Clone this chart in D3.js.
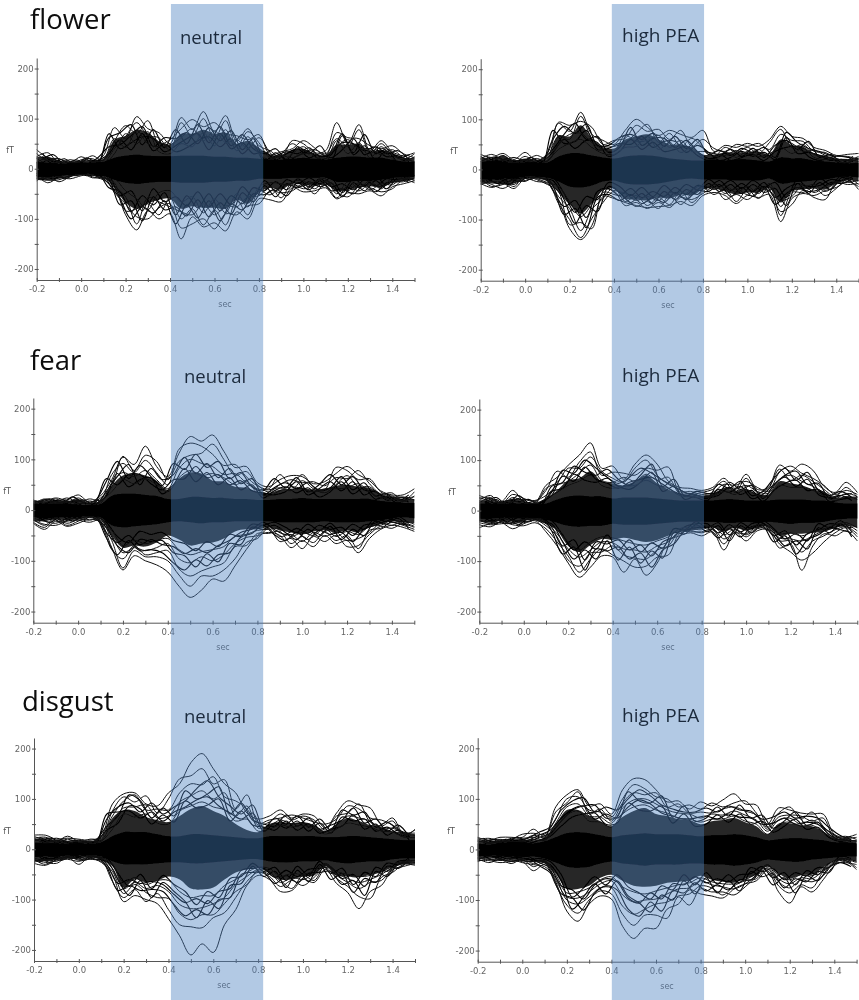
<!DOCTYPE html>
<html><head><meta charset="utf-8">
<script src="https://cdn.jsdelivr.net/npm/d3@7"></script>
<style>html,body{margin:0;background:#fff}svg{display:block}</style></head>
<body><svg id="c" width="859" height="1000"></svg>
<script>
const times=[-0.2,-0.15,-0.1,-0.05,0,0.05,0.1,0.15,0.2,0.25,0.3,0.35,0.4,0.45,0.5,0.55,0.6,0.65,0.7,0.75,0.8,0.85,0.9,0.95,1,1.05,1.1,1.15,1.2,1.25,1.3,1.35,1.4,1.45,1.5];
const timesB=[-0.175,-0.125,-0.075,-0.025,0.025,0.075,0.125,0.175,0.225,0.275,0.325,0.375,0.425,0.475,0.525,0.575,0.625,0.675,0.725,0.775,0.825,0.875,0.925,0.975,1.025,1.075,1.125,1.175,1.225,1.275,1.325,1.375,1.425,1.475];
const xTicks=[-0.2,-0.1,0,0.1,0.2,0.3,0.4,0.5,0.6,0.7,0.8,0.9,1,1.1,1.2,1.3,1.4,1.5];
const xLabels=["-0.2","0.0","0.2","0.4","0.6","0.8","1.0","1.2","1.4"];
const yTicks=[-200,-150,-100,-50,0,50,100,150,200];
const yLabels=["-200","-100","0","100","200"];
const panelTitles=["neutral","high PEA","neutral","high PEA","neutral","high PEA"];
const rowTitles=["flower","fear","disgust"];

const fnCore=[[14,12,10,10,12,12,14,22,26,28,26,25,25,26,26,26,24,24,22,22,20,18,18,20,22,20,18,22,24,24,22,22,18,14,14],[-16,-16,-14,-12,-10,-10,-14,-22,-28,-30,-28,-26,-26,-28,-28,-28,-26,-26,-24,-24,-20,-20,-20,-18,-18,-18,-18,-26,-26,-24,-24,-22,-18,-16,-16]];
const fnMid=[[24,24,16,14,16,18,20,58,66,78,72,55,48,70,70,78,70,72,50,56,42,28,28,38,40,30,28,48,48,50,35,38,32,22,22],[-22,-24,-20,-16,-13,-14,-18,-38,-68,-80,-70,-62,-60,-80,-75,-78,-78,-80,-62,-70,-48,-38,-42,-30,-32,-34,-30,-45,-42,-38,-35,-38,-28,-24,-22]];
const fnTraces=[
[38,22,20,12,24,14,26,82,60,104,80,72,50,102,78,114,74,106,55,80,46,36,22,56,50,32,36,92,50,88,36,56,34,26,32],
[24,32,12,18,14,26,16,55,86,70,96,50,58,80,98,84,92,70,66,58,68,28,34,40,56,42,26,72,62,60,46,40,46,30,22],
[30,16,20,8,18,20,12,40,64,92,66,62,36,92,64,100,60,96,44,74,52,22,30,50,36,38,30,60,44,78,30,50,28,18,30],
[12,22,8,14,8,12,18,60,42,76,50,44,48,62,80,56,76,52,58,40,62,32,14,30,44,24,20,44,58,40,40,28,38,22,14],
[20,10,14,6,14,8,10,30,70,50,74,34,30,50,44,72,46,78,36,64,30,18,26,22,30,30,14,56,30,52,22,44,20,14,24],
[-24,-14,-26,-16,-10,-16,-22,-38,-92,-122,-84,-100,-90,-140,-96,-116,-108,-124,-86,-100,-60,-62,-66,-38,-46,-44,-38,-60,-48,-50,-44,-54,-36,-30,-24],
[-14,-28,-18,-20,-14,-10,-14,-48,-70,-96,-100,-78,-70,-118,-110,-100,-120,-90,-92,-74,-70,-44,-48,-44,-30,-50,-28,-46,-56,-36,-38,-46,-40,-22,-28],
[-20,-18,-12,-10,-8,-18,-18,-28,-84,-80,-70,-92,-58,-100,-80,-112,-82,-112,-62,-92,-44,-52,-36,-30,-40,-34,-32,-58,-34,-44,-30,-36,-26,-26,-18],
[-10,-22,-22,-14,-12,-8,-10,-34,-56,-110,-58,-66,-76,-86,-92,-70,-92,-74,-76,-56,-54,-36,-58,-26,-24,-40,-24,-36,-44,-28,-42,-30,-32,-16,-24],
[-18,-8,-16,-8,-6,-12,-20,-20,-44,-60,-82,-48,-44,-66,-56,-88,-60,-88,-50,-76,-36,-28,-30,-34,-34,-26,-20,-50,-26,-38,-24,-40,-18,-20,-14]];
const fnInner=[
[30,14,20,8,22,12,62,72,88,48,78,42,78,50,88,52,84,46,68,40,30,40,18,44,30,46,16,66,32,68,30,40,22,28],
[18,28,8,18,10,22,44,48,66,84,44,62,60,72,50,82,56,76,38,60,18,26,34,30,42,24,30,52,50,36,44,30,36,18],
[24,10,16,6,18,8,70,40,52,64,60,34,46,60,70,38,70,40,52,30,34,18,30,40,22,30,22,38,60,28,38,24,26,14],
[12,20,6,14,6,16,30,58,38,70,36,50,34,42,56,64,44,60,30,48,14,32,16,26,34,18,28,70,28,46,18,36,14,22],
[-22,-12,-18,-8,-14,-12,-30,-60,-100,-76,-88,-64,-110,-72,-98,-64,-104,-70,-82,-50,-52,-40,-54,-28,-42,-24,-44,-40,-50,-32,-46,-28,-26,-20],
[-12,-20,-10,-14,-8,-16,-22,-72,-64,-104,-56,-82,-76,-94,-62,-96,-68,-90,-48,-66,-34,-56,-30,-38,-26,-36,-28,-56,-28,-44,-24,-40,-18,-28],
[-18,-8,-20,-10,-10,-8,-38,-46,-86,-54,-72,-48,-92,-54,-78,-50,-84,-54,-70,-38,-44,-26,-42,-20,-36,-20,-36,-30,-42,-22,-34,-20,-22,-14],
[-8,-16,-8,-12,-6,-14,-14,-54,-44,-84,-40,-66,-56,-74,-46,-76,-50,-72,-36,-56,-24,-44,-22,-30,-18,-30,-18,-48,-20,-34,-16,-32,-12,-22]];

const fhCore=[[16,16,16,12,14,14,14,26,32,32,28,24,22,26,28,28,26,22,20,18,18,20,18,20,20,18,16,24,22,22,18,16,14,12,14],[-20,-20,-18,-18,-14,-14,-16,-24,-34,-36,-32,-24,-22,-28,-30,-30,-28,-24,-20,-18,-20,-20,-20,-22,-22,-22,-18,-28,-26,-24,-22,-20,-16,-14,-16]];
const fhMid=[[26,22,28,18,22,20,22,68,66,88,62,45,42,60,66,70,60,50,50,44,30,30,34,34,34,36,30,60,48,46,32,28,22,20,24],[-28,-28,-30,-28,-18,-18,-24,-46,-70,-88,-68,-42,-38,-58,-60,-62,-56,-58,-50,-52,-40,-38,-44,-50,-46,-46,-38,-66,-44,-40,-38,-40,-28,-22,-24]];
const fhTraces=[
[30,24,32,20,34,18,32,92,76,114,70,58,50,78,100,84,68,78,70,64,78,36,48,44,52,46,60,86,66,62,44,38,28,30,32],
[22,30,20,24,18,28,22,94,88,96,84,50,58,62,88,76,80,60,78,46,60,42,36,50,46,52,40,70,58,56,36,34,22,18,26],
[26,16,28,14,26,14,26,66,60,106,62,46,46,54,72,90,54,72,46,62,44,26,44,34,44,32,54,80,44,50,30,24,26,26,20],
[16,24,14,18,14,22,16,50,70,72,54,40,36,68,56,58,68,44,58,36,36,32,28,38,30,40,24,54,52,36,38,28,16,14,22],
[20,12,18,12,20,10,18,40,52,60,44,32,30,44,46,66,40,54,34,44,24,20,34,24,36,26,32,44,32,42,24,20,20,20,16],
[-28,-36,-28,-38,-18,-24,-28,-60,-118,-140,-112,-54,-58,-66,-72,-76,-74,-72,-64,-72,-52,-46,-52,-68,-52,-56,-50,-104,-58,-48,-52,-42,-36,-24,-34],
[-22,-30,-38,-26,-22,-16,-22,-68,-100,-136,-98,-66,-44,-72,-66,-78,-66,-76,-56,-60,-48,-36,-60,-50,-60,-44,-42,-84,-70,-42,-56,-60,-26,-30,-28],
[-30,-24,-24,-30,-14,-20,-30,-44,-110,-106,-118,-46,-50,-58,-74,-64,-78,-52,-70,-48,-36,-50,-38,-64,-40,-58,-34,-92,-46,-46,-36,-52,-38,-20,-40],
[-18,-34,-30,-20,-24,-12,-18,-54,-78,-122,-80,-58,-36,-64,-52,-72,-56,-70,-44,-66,-44,-30,-48,-38,-50,-36,-44,-62,-54,-30,-46,-34,-24,-26,-22],
[-24,-18,-20,-34,-10,-18,-26,-34,-64,-94,-70,-40,-42,-48,-62,-54,-62,-46,-54,-40,-32,-40,-32,-46,-34,-48,-28,-74,-38,-36,-30,-44,-30,-16,-30]];
const fhInner=[
[26,16,22,10,24,14,60,86,72,90,48,48,64,70,60,72,46,66,42,60,30,38,28,42,34,44,24,74,54,42,36,28,26,22],
[14,24,12,18,12,20,40,70,92,60,66,34,44,84,48,62,62,44,58,36,22,26,40,26,42,24,48,58,40,56,24,30,14,26],
[20,10,18,8,18,8,78,52,56,78,40,42,52,50,66,44,56,56,34,48,34,18,24,36,26,34,20,64,32,34,28,18,20,16],
[10,18,8,14,8,16,34,60,42,58,54,26,36,60,40,54,36,40,46,28,18,30,18,24,30,18,36,44,46,26,18,24,10,18],
[-26,-16,-30,-14,-20,-10,-32,-90,-78,-116,-56,-50,-62,-50,-68,-56,-66,-46,-60,-42,-44,-30,-54,-36,-54,-34,-70,-48,-36,-44,-40,-26,-28,-18],
[-14,-28,-18,-24,-10,-18,-22,-60,-108,-72,-84,-34,-46,-66,-48,-68,-44,-60,-40,-50,-28,-44,-30,-48,-30,-46,-38,-72,-28,-48,-26,-40,-16,-28],
[-22,-12,-24,-10,-16,-8,-42,-74,-62,-96,-44,-38,-52,-38,-56,-44,-54,-36,-50,-32,-36,-22,-42,-28,-44,-26,-56,-38,-28,-34,-32,-20,-22,-14],
[-10,-20,-12,-18,-8,-14,-16,-48,-86,-54,-60,-26,-34,-52,-36,-54,-32,-48,-30,-40,-20,-34,-22,-38,-22,-36,-26,-56,-20,-38,-18,-30,-12,-20]];

const hnCore=[[12,12,12,12,10,10,12,28,32,32,30,28,22,22,26,26,24,24,22,22,20,20,22,22,24,22,22,22,22,22,22,18,16,14,14],[-14,-16,-14,-14,-12,-12,-14,-30,-34,-32,-30,-28,-24,-22,-24,-26,-24,-24,-22,-22,-22,-22,-24,-24,-24,-24,-22,-24,-24,-24,-22,-20,-16,-14,-16]];
const hnMid=[[18,18,20,18,22,14,18,48,68,72,68,58,40,62,74,72,58,56,46,44,36,34,40,42,44,40,42,48,50,46,44,32,26,22,22],[-22,-22,-18,-20,-18,-14,-18,-50,-74,-70,-72,-64,-50,-58,-70,-66,-64,-56,-42,-38,-38,-34,-40,-44,-48,-42,-40,-44,-40,-44,-34,-28,-22,-24,-26]];
const hnTraces=[
[18,18,24,20,30,16,28,60,104,90,126,86,66,112,145,136,148,116,84,86,54,46,60,68,66,52,56,72,86,70,58,38,30,30,42],
[12,22,16,24,16,22,20,70,92,74,98,74,50,120,132,126,110,88,90,66,48,42,70,50,70,46,40,84,78,60,62,36,26,24,26],
[20,14,22,14,24,12,24,46,106,78,108,96,60,96,108,112,130,100,68,76,50,36,50,60,54,56,48,64,62,78,52,32,34,18,36],
[8,20,12,18,12,18,14,54,74,66,78,60,42,82,100,92,86,70,72,54,42,40,44,38,58,42,34,50,68,46,46,28,20,26,20],
[14,10,16,10,20,8,18,36,60,52,62,50,36,64,78,68,72,64,50,58,34,28,38,46,42,36,42,42,44,52,36,24,28,16,28],
[-26,-38,-22,-32,-26,-18,-24,-74,-118,-90,-100,-108,-122,-150,-172,-158,-136,-140,-110,-78,-52,-44,-50,-74,-60,-72,-50,-66,-60,-84,-56,-38,-30,-34,-42],
[-20,-28,-30,-22,-20,-24,-20,-60,-114,-80,-92,-92,-100,-128,-150,-130,-130,-118,-96,-64,-56,-36,-62,-56,-76,-52,-62,-50,-72,-70,-48,-32,-36,-26,-32],
[-24,-34,-16,-30,-22,-14,-26,-78,-96,-70,-88,-84,-80,-116,-130,-120,-112,-104,-72,-70,-46,-46,-42,-66,-52,-64,-42,-60,-50,-76,-40,-36,-24,-30,-38],
[-16,-22,-26,-18,-16,-20,-16,-50,-84,-74,-80,-74,-66,-96,-104,-92,-100,-88,-66,-54,-50,-32,-52,-48,-62,-44,-52,-44,-60,-56,-44,-26,-30,-22,-28],
[-18,-30,-14,-26,-18,-12,-20,-40,-70,-60,-66,-60,-56,-78,-88,-82,-78,-72,-52,-48,-40,-38,-36,-52,-44,-50,-36,-52,-42,-48,-32,-30,-20,-26,-34]];
const hnInner=[
[16,22,12,26,14,18,56,96,62,88,66,48,92,80,110,84,96,62,74,46,38,62,44,64,36,50,70,50,66,40,36,24,26,22],
[10,16,20,16,20,10,36,66,90,50,82,60,70,104,72,92,64,82,52,62,30,44,54,42,54,38,44,66,40,54,28,32,18,30],
[14,8,16,10,14,14,62,50,70,70,52,40,60,62,86,64,70,50,58,38,34,30,36,56,30,42,56,38,56,30,38,20,22,16],
[6,14,10,18,8,12,28,72,46,60,64,32,50,82,56,74,50,64,40,50,24,38,46,34,44,26,36,56,32,44,22,26,14,24],
[-22,-14,-24,-16,-18,-12,-54,-88,-60,-80,-78,-84,-104,-118,-98,-110,-88,-84,-54,-46,-30,-48,-60,-44,-58,-40,-48,-44,-62,-38,-30,-22,-26,-30],
[-14,-24,-12,-22,-10,-16,-34,-70,-84,-58,-62,-60,-84,-90,-112,-86,-102,-66,-68,-34,-38,-30,-44,-58,-38,-52,-32,-58,-38,-50,-22,-28,-16,-36],
[-18,-10,-20,-12,-14,-10,-44,-64,-50,-68,-58,-68,-72,-86,-76,-84,-70,-60,-44,-38,-24,-38,-48,-36,-46,-30,-38,-34,-50,-30,-26,-16,-22,-24],
[-10,-18,-8,-16,-6,-12,-24,-52,-64,-42,-48,-44,-60,-66,-80,-62,-72,-48,-52,-28,-30,-24,-34,-44,-28,-40,-26,-44,-28,-38,-16,-22,-12,-26]];

const hhCore=[[14,14,12,14,14,12,14,22,28,30,28,28,24,26,26,26,24,22,20,20,20,20,22,22,20,20,20,22,22,22,20,20,16,14,14],[-16,-16,-14,-14,-14,-14,-16,-24,-30,-32,-30,-30,-26,-28,-28,-28,-26,-24,-22,-22,-22,-22,-24,-24,-22,-24,-22,-24,-26,-24,-24,-22,-18,-16,-16]];
const hhMid=[[20,20,16,24,18,16,24,40,60,64,78,58,54,50,58,70,54,42,34,32,30,34,44,40,42,34,32,58,54,50,42,38,26,28,28],[-22,-24,-20,-22,-20,-18,-26,-40,-70,-82,-68,-56,-58,-54,-58,-62,-58,-50,-42,-40,-36,-34,-42,-34,-40,-34,-32,-50,-46,-46,-44,-42,-34,-30,-34]];
const hhTraces=[
[30,22,18,40,18,16,50,66,90,110,134,84,88,62,92,110,92,58,46,44,40,46,64,44,72,42,46,90,78,92,80,48,36,56,36],
[24,26,14,32,24,18,40,78,66,96,116,70,76,74,70,84,80,86,38,38,32,36,52,50,58,46,38,76,88,74,64,50,32,40,32],
[20,30,12,26,18,14,44,56,84,84,106,78,64,56,84,100,70,52,42,32,36,42,58,36,64,36,44,82,60,70,58,42,28,46,26],
[26,18,16,22,22,20,30,50,58,74,90,60,56,66,58,72,60,66,34,34,28,30,44,42,50,38,34,62,70,58,48,36,24,34,28],
[16,24,10,18,14,12,24,36,50,58,70,50,44,48,50,60,50,44,30,28,26,28,38,32,42,30,28,50,46,46,40,30,20,28,22],
[-34,-26,-24,-36,-26,-20,-42,-70,-104,-132,-112,-90,-92,-122,-96,-128,-104,-60,-50,-44,-50,-42,-78,-42,-60,-40,-38,-74,-66,-118,-70,-46,-50,-40,-60],
[-28,-32,-22,-28,-30,-24,-36,-62,-90,-122,-96,-76,-88,-100,-112,-110,-92,-88,-46,-40,-44,-38,-66,-38,-52,-36,-36,-66,-82,-98,-84,-62,-44,-34,-52],
[-24,-28,-26,-24,-24,-18,-30,-52,-98,-110,-84,-82,-70,-88,-94,-96,-78,-70,-42,-42,-42,-36,-56,-44,-46,-32,-40,-60,-60,-82,-60,-50,-38,-32,-46],
[-20,-22,-20,-26,-20,-16,-26,-46,-76,-92,-78,-62,-64,-76,-78,-82,-70,-62,-40,-36,-38,-30,-48,-36,-48,-34,-30,-54,-56,-60,-50,-40,-34,-28,-40],
[-18,-26,-16,-20,-18,-14,-22,-38,-62,-78,-62,-52,-54,-60,-66,-68,-60,-52,-36,-32,-30,-32,-40,-30,-38,-28,-32,-46,-44,-50,-42,-36,-28,-24,-34]];
const hhInner=[
[16,26,12,30,14,14,36,80,74,100,84,66,54,66,84,74,60,48,36,32,24,52,44,58,30,38,64,84,60,76,40,30,38,26],
[24,14,20,18,22,10,48,56,88,76,70,82,62,50,70,92,48,62,28,38,34,36,56,42,50,24,50,70,78,52,54,24,30,34],
[12,22,8,24,10,16,30,68,58,86,62,54,44,56,62,66,52,38,30,26,20,42,36,48,24,32,52,66,48,62,32,26,30,20],
[18,10,16,12,16,8,38,44,72,60,56,64,48,42,56,76,38,48,22,30,26,30,46,32,40,18,40,54,60,40,42,18,22,26],
[-24,-18,-26,-20,-22,-12,-40,-86,-72,-118,-76,-80,-72,-96,-84,-112,-78,-66,-40,-34,-34,-54,-36,-52,-32,-30,-62,-50,-86,-58,-48,-34,-38,-44],
[-14,-26,-14,-28,-14,-22,-26,-62,-96,-78,-96,-60,-98,-72,-104,-80,-94,-44,-46,-28,-42,-30,-60,-30,-44,-26,-44,-70,-60,-76,-34,-44,-26,-52],
[-20,-12,-22,-14,-18,-10,-32,-70,-58,-98,-62,-66,-58,-78,-68,-90,-62,-52,-32,-26,-26,-44,-28,-42,-26,-24,-50,-40,-68,-46,-38,-26,-30,-34],
[-10,-20,-10,-22,-10,-16,-20,-48,-78,-62,-76,-48,-78,-58,-82,-64,-74,-36,-38,-22,-34,-24,-48,-24,-36,-20,-36,-56,-46,-60,-26,-34,-20,-42]];

const dnCore=[[14,12,12,10,12,10,14,26,34,34,34,30,26,26,30,30,28,26,24,22,22,26,26,26,26,26,24,24,26,26,24,22,20,18,18],[-16,-14,-14,-12,-12,-12,-14,-24,-30,-30,-30,-28,-26,-26,-28,-28,-26,-24,-22,-20,-20,-24,-26,-26,-24,-24,-22,-26,-28,-26,-24,-24,-20,-18,-18]];
const dnMid=[[22,20,16,16,16,16,22,62,78,76,64,58,54,66,80,86,76,66,50,38,34,50,54,52,54,48,36,50,62,56,48,44,36,34,30],[-24,-24,-20,-18,-18,-16,-22,-34,-76,-60,-66,-62,-54,-60,-78,-80,-76,-60,-46,-40,-36,-48,-60,-60,-54,-52,-34,-52,-54,-56,-50,-46,-36,-30,-28]];
const dnTraces=[
[28,28,20,22,20,18,26,90,110,112,90,86,112,130,172,190,160,130,112,72,60,66,78,62,70,66,42,72,96,88,82,50,62,30,38],
[22,24,16,26,16,20,22,76,104,94,106,72,100,140,146,160,130,138,80,108,52,58,62,68,62,54,50,60,86,80,62,58,48,34,32],
[26,18,22,16,18,14,24,66,96,108,78,80,78,112,130,128,144,104,96,80,48,54,70,58,66,58,38,66,72,90,54,46,56,26,40],
[16,22,14,20,14,16,18,54,82,84,88,62,66,94,106,116,100,112,66,86,42,46,58,50,52,46,34,48,66,62,56,40,42,30,28],
[20,14,18,12,18,12,16,40,70,64,70,52,50,76,86,94,84,78,56,60,36,40,48,44,48,42,30,40,52,48,44,36,34,24,24],
[-28,-32,-22,-20,-24,-18,-26,-50,-104,-92,-100,-108,-138,-172,-210,-188,-205,-150,-120,-72,-52,-60,-84,-82,-60,-66,-40,-68,-86,-118,-84,-72,-40,-34,-28],
[-22,-26,-28,-16,-30,-14,-20,-64,-96,-80,-104,-88,-120,-150,-154,-156,-136,-126,-96,-64,-46,-54,-74,-62,-72,-56,-36,-58,-74,-94,-98,-56,-46,-30,-32],
[-26,-20,-24,-14,-22,-20,-24,-44,-88,-70,-86,-96,-98,-128,-140,-130,-130,-108,-84,-70,-42,-50,-62,-78,-52,-62,-32,-52,-66,-78,-66,-62,-38,-28,-30],
[-20,-30,-18,-18,-18,-12,-18,-38,-78,-66,-78,-72,-84,-110,-118,-116,-108,-96,-70,-54,-40,-44,-66,-56,-60,-48,-30,-48,-58,-66,-60,-50,-36,-26,-26],
[-18,-22,-20,-12,-20,-16,-16,-30,-66,-56,-70,-62,-62,-84,-96,-92,-92,-72,-60,-46,-36,-38,-54,-48,-50,-42,-28,-44,-50,-54,-52,-42,-30,-24,-22]];
const dnInner=[
[24,16,18,12,16,14,60,84,92,74,92,70,84,96,120,136,104,86,70,88,42,62,50,66,44,60,38,78,68,74,44,54,38,30],
[14,22,12,18,10,18,46,66,108,96,62,82,66,116,100,110,124,70,92,58,50,46,68,46,62,40,48,58,82,52,60,36,48,24],
[20,12,16,10,14,10,70,74,76,62,74,56,74,84,98,104,86,72,60,72,36,52,42,56,36,52,32,64,56,60,36,44,30,26],
[10,18,8,14,8,14,38,52,86,80,50,68,54,96,82,88,100,56,76,48,44,38,56,38,50,32,40,46,68,40,50,28,38,18],
[-26,-18,-22,-12,-22,-14,-36,-82,-72,-82,-80,-84,-110,-132,-120,-130,-100,-96,-50,-46,-46,-68,-52,-66,-48,-46,-44,-70,-62,-92,-44,-54,-30,-26],
[-16,-26,-12,-18,-12,-20,-24,-60,-92,-62,-96,-66,-84,-104,-136,-102,-118,-72,-68,-34,-54,-44,-76,-42,-64,-30,-60,-48,-86,-58,-66,-34,-38,-20],
[-22,-14,-18,-10,-18,-10,-30,-68,-60,-68,-64,-70,-90,-106,-98,-108,-84,-78,-42,-38,-38,-56,-42,-54,-40,-38,-36,-58,-50,-74,-36,-44,-24,-22],
[-12,-20,-10,-14,-8,-16,-18,-48,-74,-50,-78,-52,-70,-84,-110,-84,-96,-58,-54,-28,-44,-36,-62,-34,-52,-24,-48,-38,-70,-46,-54,-28,-30,-16]];

const dhCore=[[12,10,12,14,14,12,16,24,32,34,32,28,24,28,30,32,30,30,30,28,26,28,28,30,28,24,18,20,22,22,20,18,14,14,12],[-14,-12,-12,-14,-14,-14,-18,-26,-34,-36,-34,-28,-24,-28,-30,-32,-30,-30,-30,-28,-28,-30,-30,-32,-30,-26,-20,-22,-24,-24,-20,-18,-16,-14,-14]];
const dhMid=[[18,16,16,20,20,18,24,50,78,78,66,56,46,64,76,82,70,66,60,58,50,56,58,62,54,46,30,50,52,48,46,36,22,20,18],[-20,-16,-18,-20,-20,-24,-28,-48,-78,-78,-72,-56,-50,-62,-72,-74,-72,-66,-64,-62,-52,-60,-64,-66,-58,-50,-34,-48,-58,-50,-50,-36,-22,-20,-24]];
const dhTraces=[
[24,18,24,24,24,40,26,84,108,118,86,90,70,118,140,138,118,94,96,80,94,86,98,110,90,88,50,82,78,72,70,70,30,24,30],
[20,22,18,20,30,32,30,60,100,104,78,74,64,100,128,120,104,100,84,88,80,92,84,92,96,72,44,72,84,60,74,46,26,22,24],
[22,14,20,16,18,28,24,74,92,114,70,80,56,92,112,108,112,84,90,72,74,72,80,84,76,68,40,64,68,66,56,62,24,26,20],
[16,18,14,22,22,24,20,52,84,90,66,64,52,82,98,100,90,78,72,70,62,70,68,76,68,58,36,58,62,50,58,40,22,18,18],
[18,12,16,14,16,20,18,42,68,76,56,54,44,70,84,88,78,72,62,60,54,60,60,66,56,50,30,50,54,46,48,34,20,20,16],
[-22,-22,-26,-24,-24,-42,-30,-64,-122,-142,-108,-92,-98,-152,-176,-156,-156,-118,-108,-80,-88,-92,-96,-78,-68,-62,-42,-84,-106,-74,-84,-60,-32,-24,-40],
[-18,-26,-20,-28,-20,-34,-26,-70,-110,-126,-100,-82,-88,-128,-150,-130,-130,-136,-94,-110,-78,-84,-84,-90,-74,-54,-38,-72,-86,-70,-76,-44,-28,-26,-30],
[-24,-18,-22,-20,-26,-30,-34,-56,-100,-108,-94,-76,-76,-112,-128,-118,-108,-104,-92,-88,-72,-76,-90,-72,-62,-58,-36,-64,-76,-60,-64,-52,-26,-22,-36],
[-16,-20,-18,-24,-18,-28,-24,-60,-94,-96,-84,-68,-62,-90,-104,-100,-98,-88,-78,-76,-62,-70,-74,-78,-68,-52,-32,-58,-68,-56,-58,-42,-24,-20,-26],
[-20,-14,-20,-18,-22,-24,-22,-50,-86,-84,-76,-60,-54,-74,-84,-88,-82,-76,-70,-66,-56,-64,-68,-68,-60,-48,-30,-52,-60,-50,-52,-38,-22,-18,-24]];
const dhInner=[
[22,14,20,18,22,34,44,78,96,102,74,84,78,100,118,106,88,80,74,74,82,74,86,78,76,60,64,74,62,66,62,44,28,20],
[14,20,12,24,16,24,32,56,78,86,88,62,64,114,96,92,106,64,86,56,62,84,66,88,62,68,42,56,74,48,54,30,20,26],
[18,10,16,14,18,28,38,62,80,86,60,70,62,84,98,90,72,66,60,62,66,60,70,64,62,50,52,62,50,54,50,36,22,16],
[10,16,10,18,12,18,26,46,64,70,72,50,52,92,78,76,86,52,70,46,50,68,54,70,50,56,34,46,60,40,44,24,16,20],
[-18,-14,-22,-22,-18,-32,-46,-88,-96,-120,-86,-72,-80,-118,-132,-104,-122,-82,-86,-66,-82,-70,-80,-60,-60,-42,-70,-56,-86,-52,-62,-36,-26,-34],
[-12,-22,-14,-18,-24,-22,-30,-62,-118,-94,-68,-88,-62,-92,-106,-124,-90,-100,-62,-88,-56,-86,-62,-82,-44,-54,-48,-76,-58,-64,-44,-46,-18,-24],
[-16,-10,-18,-16,-14,-26,-36,-72,-80,-98,-70,-58,-64,-96,-106,-86,-98,-68,-70,-54,-66,-58,-64,-50,-48,-34,-56,-46,-70,-42,-50,-28,-20,-26],
[-8,-16,-10,-14,-20,-18,-24,-50,-94,-76,-54,-70,-50,-74,-86,-98,-72,-80,-50,-70,-46,-68,-50,-66,-36,-44,-38,-60,-46,-52,-36,-36,-14,-18]];

const coreBands=[fnCore,fhCore,hnCore,hhCore,dnCore,dhCore];
const midBands=[fnMid,fhMid,hnMid,hhMid,dnMid,dhMid];
const traceSets=[fnTraces,fhTraces,hnTraces,hhTraces,dnTraces,dhTraces];
const innerSets=[fnInner,fhInner,hnInner,hhInner,dnInner,dhInner];
const shadeStart=[0.404,0.39];
const shadeEnd=[0.819,0.805];

const layout=[
 {l:36.7,r:414.5,t:58,b:280,fx:10,sx:225,tx:180,ty:44},
 {l:480.7,r:858.5,t:58.7,b:280.7,fx:454,sx:668,tx:622,ty:42},
 {l:33.3,r:414.3,t:398,b:622.7,fx:7,sx:223,tx:184,ty:383},
 {l:479.3,r:857.3,t:399,b:622.7,fx:452,sx:668,tx:622,ty:382},
 {l:34,r:415,t:738,b:961,fx:7,sx:224,tx:184,ty:723},
 {l:477.7,r:856.6,t:737.7,b:961.7,fx:451,sx:667,tx:622,ty:722}];
const titlePos=[{x:30,y:29},{x:30,y:370},{x:22,y:711}];

const svg=d3.select("#c");
const defs=svg.append("defs");
defs.append("filter").attr("id","soft").attr("x","-2%").attr("y","-2%").attr("width","104%").attr("height","104%").append("feGaussianBlur").attr("stdDeviation",0.4);
const root=svg.append("g").attr("filter","url(#soft)");
const bodyFont="'DejaVu Sans',sans-serif";
const labelFont="'Open Sans','Noto Sans',sans-serif";

layout.forEach((p,i)=>{
  const x=d3.scaleLinear().domain([-0.2,1.5]).range([p.l,p.r]);
  const y=d3.scaleLinear().domain([-222,221]).range([p.b,p.t]);
  const g=root.append("g");
  const area=d3.area().x((d,k)=>x(times[k])).y0((d,k)=>y(midBands[i][1][k])).y1(d=>y(d)).curve(d3.curveCatmullRom);
  g.append("path").attr("d",area(midBands[i][0])).attr("fill","#161616").attr("fill-opacity",0.93);
  const line=d3.line().x((d,k)=>x(times[k])).y(d=>y(d)).curve(d3.curveCatmullRom);
  const lineB=d3.line().x((d,k)=>x(timesB[k])).y(d=>y(d)).curve(d3.curveCatmullRom);
  g.selectAll("path.in").data(innerSets[i]).join("path").attr("class","in").attr("d",lineB).attr("fill","none").attr("stroke","#000").attr("stroke-width",1.1);
  g.selectAll("path.tr").data(traceSets[i]).join("path").attr("class","tr").attr("d",line).attr("fill","none").attr("stroke","#111").attr("stroke-width",1);
  const core=d3.area().x((d,k)=>x(times[k])).y0((d,k)=>y(coreBands[i][1][k])).y1(d=>y(d)).curve(d3.curveCatmullRom);
  g.append("path").attr("d",core(coreBands[i][0])).attr("fill","#000");

  const ax=d3.axisBottom(x).tickValues(xTicks).tickSizeOuter(0).tickFormat(d=>{const s=d.toFixed(1);return xLabels.includes(s)?s:"";});
  const gx=g.append("g").attr("transform",`translate(0,${p.b})`).call(ax);
  const ay=d3.axisLeft(y).tickValues(yTicks).tickSizeOuter(0).tickFormat(d=>yLabels.includes(String(d))?String(d):"");
  const gy=g.append("g").attr("transform",`translate(${p.l},0)`).call(ay);
  gx.selectAll(".tick line").attr("y1",-2).attr("y2",2);
  gy.selectAll(".tick line").attr("x1",-2).attr("x2",2);
  gx.selectAll(".tick text").attr("y",6);
  gy.selectAll(".tick text").attr("x",-3);
  [gx,gy].forEach(a=>{a.selectAll("path,line").attr("stroke","#555");a.selectAll("text").attr("fill","#666").attr("font-family",bodyFont).attr("font-size",8.5);});
  g.append("text").attr("x",p.fx).attr("y",(p.t+p.b)/2-16).attr("font-size",8).attr("font-family",bodyFont).attr("fill","#555").attr("text-anchor","middle").text("fT");
  g.append("text").attr("x",p.sx).attr("y",p.b+27).attr("font-size",8).attr("font-family",bodyFont).attr("fill","#666").attr("text-anchor","middle").text("sec");
  if(i<2){
    root.append("rect").attr("class","shade").attr("x",x(shadeStart[i])).attr("width",x(shadeEnd[i])-x(shadeStart[i])).attr("y",4).attr("height",996).attr("fill","#4a7ebe").attr("fill-opacity",0.42);
  }
});
root.selectAll("rect.shade").raise();
layout.forEach((p,i)=>{
  root.append("text").attr("x",p.tx).attr("y",p.ty).attr("font-family",labelFont).attr("font-size",i%2?19:18.5).attr("fill","#1a2a3c").text(panelTitles[i]);
});
rowTitles.forEach((t,i)=>{
  root.append("text").attr("x",titlePos[i].x).attr("y",titlePos[i].y).attr("font-family",labelFont).attr("font-size",27.5).attr("fill","#0a0a0a").text(t);
});
</script></body></html>
